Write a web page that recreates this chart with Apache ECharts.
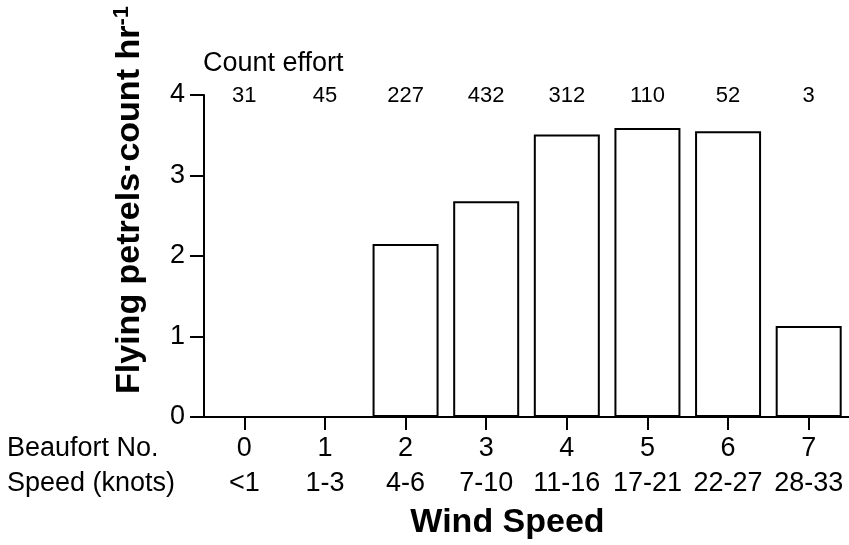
<!DOCTYPE html>
<html>
<head>
<meta charset="utf-8">
<script src="https://cdn.jsdelivr.net/npm/echarts@6/dist/echarts.min.js"></script>
<style>html,body{margin:0;padding:0;background:#fff;}#c{width:849px;height:545px;}</style>
</head>
<body>
<div id="c"></div>
<script>
const beaufort = ['0', '1', '2', '3', '4', '5', '6', '7'];
const speeds = ['<1', '1-3', '4-6', '7-10', '11-16', '17-21', '22-27', '28-33'];
const countEffort = ['31', '45', '227', '432', '312', '110', '52', '3'];
const petrels = [0, 0, 2.15, 2.68, 3.51, 3.59, 3.55, 1.13];
const yTicks = [0, 1, 2, 3, 4];

const FONT = '"Liberation Sans", Arial, Helvetica, sans-serif';
const chart = echarts.init(document.getElementById('c'), null, {renderer: 'canvas'});
chart.setOption({
  animation: false,
  backgroundColor: '#fff',
  textStyle: {fontFamily: FONT, color: '#000'},
  grid: {left: 204, right: 0, top: 95, bottom: 128, containLabel: false},
  xAxis: [{
    type: 'category',
    data: beaufort,
    position: 'bottom',
    axisLine: {show: true, lineStyle: {color: '#000', width: 2}},
    axisTick: {show: true, alignWithLabel: true, interval: 0, length: 13, lineStyle: {color: '#000', width: 2}},
    axisLabel: {
      interval: 0, hideOverlap: false,
      color: '#000', fontSize: 27, fontFamily: FONT, margin: 14, lineHeight: 35,
      formatter: (v, i) => v + '\n' + speeds[i]
    },
    name: 'Wind Speed',
    nameLocation: 'middle',
    nameGap: 106,
    nameTextStyle: {fontSize: 34, fontWeight: 'bold', color: '#000', fontFamily: FONT,
      verticalAlign: 'middle', padding: [0, 38, 0, 0]}
  }, {
    type: 'category',
    data: countEffort,
    position: 'top',
    axisLine: {show: false},
    axisTick: {show: false},
    axisLabel: {interval: 0, hideOverlap: false, color: '#000', fontSize: 22, fontFamily: FONT, margin: -1, verticalAlign: 'middle'}
  }],
  yAxis: {
    type: 'value',
    min: 0, max: 4, interval: 1,
    axisLine: {show: true, lineStyle: {color: '#000', width: 2}},
    axisTick: {show: true, length: 14, lineStyle: {color: '#000', width: 2}},
    splitLine: {show: false},
    axisLabel: {color: '#000', fontSize: 27, fontFamily: FONT, margin: 19,
      formatter: v => yTicks.indexOf(v) >= 0 ? String(v) : ''}
  },
  graphic: [
    {type: 'text', x: 7, y: 449, style: {text: 'Beaufort No.', font: '27px ' + FONT, fill: '#000', verticalAlign: 'middle'}},
    {type: 'text', x: 7, y: 484, style: {text: 'Speed (knots)', font: '27px ' + FONT, fill: '#000', verticalAlign: 'middle'}},
    {type: 'text', x: 203, y: 64, style: {text: 'Count effort', font: '27px ' + FONT, fill: '#000', verticalAlign: 'middle'}},
    {type: 'text', x: 130, y: 200, rotation: Math.PI / 2,
      style: {
        text: 'Flying petrels·count hr{sup|-1}',
        font: 'bold 34px ' + FONT, fill: '#000', align: 'center', verticalAlign: 'middle',
        rich: {sup: {font: 'bold 22px ' + FONT, fill: '#000', verticalAlign: 'top', padding: [0, 0, 16, 0]}}
      }}
  ],
  series: [{
    type: 'bar',
    data: petrels,
    barWidth: 66,
    itemStyle: {color: '#fff', borderColor: '#000', borderWidth: 2},
    xAxisIndex: 0, yAxisIndex: 0
  }]
});
</script>
</body>
</html>
